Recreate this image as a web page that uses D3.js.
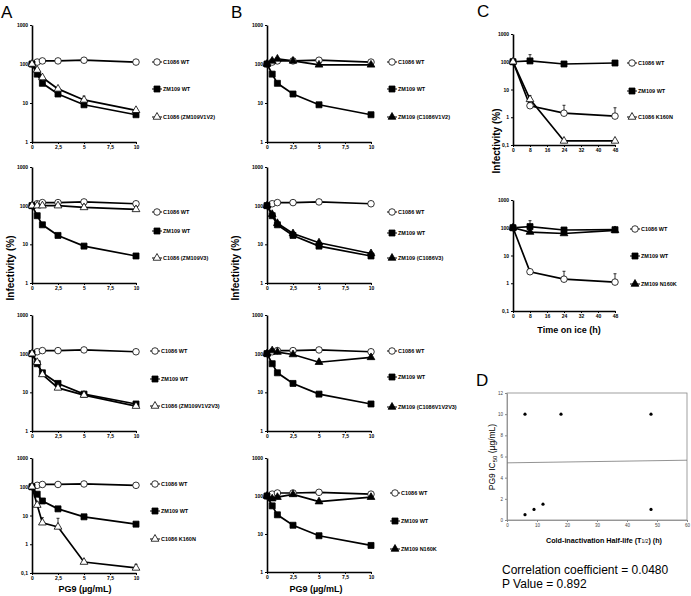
<!DOCTYPE html>
<html>
<head>
<meta charset="utf-8">
<script src="https://cdn.jsdelivr.net/npm/d3@7"></script>
<style>
body { margin: 0; background: #fff; }
svg { font-family: "Liberation Sans", Arial, sans-serif; }
</style>
</head>
<body>
<div id="wrapper"></div>
<script>
// x values
const doses = [0, 0.5, 1, 2.5, 5, 10];
const hours = [0, 8, 24, 48];
const doseTicks = [0, 2.5, 5, 7.5, 10];
const hourTicks = [0, 8, 16, 24, 32, 40, 48];

// panel A (infectivity %, by PG9 dose)
const a_c1086wt = [100, 112, 120, 120, 125, 112];
const a_zm109wt = [100, 55, 32, 17, 9, 5];
const a1_chimera = [100, 70, 45, 23, 12, 6.5];
const a1_err = [null, null, null, null, 15, null];
const a2_chimera = [100, 100, 100, 100, 90, 80];
const a3_chimera = [100, 60, 29, 13, 8.5, 4.4];
const a4_k160n = [100, 23, 5.6, 4, 0.24, 0.15];
const a4_err = [null, 30, 8.4, 8, null, 0.2];

// panel B
const b1_chimera = [100, 120, 135, 120, 95, 95];
const b2_chimera = [100, 60, 35, 19, 11, 5.8];
const b3_chimera = [100, 120, 110, 95, 60, 80];
const b4_n160k = [100, 85, 93, 110, 71, 93];

// panel C (infectivity %, by hours on ice)
const c_c1086wt = [100, 2.6, 1.4, 1.1];
const c_c1086wt_err = [null, null, 2.7, 2.2];
const c_zm109wt = [100, 107, 83, 90];
const c_zm109wt_err = [null, 180, null, null];
const c1_k160n = [100, 4.4, 0.14, 0.14];
const c1_k160n_err = [null, 6, null, null];
const c2_zm109wt = [100, 110, 83, 85];
const c2_n160k = [100, 70, 62, 80];

// panel D
const dHalfLife = [6, 18, 48, 6, 9, 12, 48];
const dIC50 = [10, 10, 10, 0.5, 1, 1.5, 1];
const dFit = [[0, 5.4], [60, 5.65]];

const svg = d3.select("#wrapper").append("svg")
    .attr("width", 691).attr("height", 596);

const comma = d => String(d).replace(".", ",");

function series(name, shape, fill, values, err) {
    return {name, shape, fill, values, err: err || values.map(() => null)};
}

const panels = [
    {left: 32, right: 136, top: 25, bottom: 142, xs: doses, xTicks: doseTicks, yMin: 1, legX: 157, legY: [62, 89, 117],
     series: [series("C1086 WT", "circle", "white", a_c1086wt), series("ZM109 WT", "square", "black", a_zm109wt),
              series("C1086 (ZM109V1V2)", "triangle", "white", a1_chimera, a1_err)]},
    {left: 32, right: 136, top: 167, bottom: 283, xs: doses, xTicks: doseTicks, yMin: 1, legX: 157, legY: [212, 231, 258],
     series: [series("C1086 WT", "circle", "white", a_c1086wt), series("ZM109 WT", "square", "black", a_zm109wt),
              series("C1086 (ZM109V3)", "triangle", "white", a2_chimera)]},
    {left: 32, right: 136, top: 315, bottom: 431, xs: doses, xTicks: doseTicks, yMin: 1, legX: 155, legY: [351, 379, 406],
     series: [series("C1086 WT", "circle", "white", a_c1086wt), series("ZM109 WT", "square", "black", a_zm109wt),
              series("C1086 (ZM109V1V2V3)", "triangle", "white", a3_chimera)]},
    {left: 32, right: 136, top: 458, bottom: 573, xs: doses, xTicks: doseTicks, yMin: 0.1, legX: 155, legY: [484, 511, 539],
     series: [series("C1086 WT", "circle", "white", a_c1086wt), series("ZM109 WT", "square", "black", a_zm109wt),
              series("C1086 K160N", "triangle", "white", a4_k160n, a4_err)]},
    {left: 267, right: 371, top: 25, bottom: 142, xs: doses, xTicks: doseTicks, yMin: 1, legX: 392, legY: [62, 89, 117],
     series: [series("C1086 WT", "circle", "white", a_c1086wt), series("ZM109 WT", "square", "black", a_zm109wt),
              series("ZM109 (C1086V1V2)", "triangle", "black", b1_chimera)]},
    {left: 267, right: 371, top: 167, bottom: 283, xs: doses, xTicks: doseTicks, yMin: 1, legX: 392, legY: [212, 233, 258],
     series: [series("C1086 WT", "circle", "white", a_c1086wt), series("ZM109 WT", "square", "black", a_zm109wt),
              series("ZM109 (C1086V3)", "triangle", "black", b2_chimera)]},
    {left: 267, right: 371, top: 315, bottom: 431, xs: doses, xTicks: doseTicks, yMin: 1, legX: 392, legY: [351, 377, 407],
     series: [series("C1086 WT", "circle", "white", a_c1086wt), series("ZM109 WT", "square", "black", a_zm109wt),
              series("ZM109 (C1086V1V2V3)", "triangle", "black", b3_chimera)]},
    {left: 267, right: 371, top: 458, bottom: 572, xs: doses, xTicks: doseTicks, yMin: 1, legX: 395, legY: [493, 521, 549],
     series: [series("C1086 WT", "circle", "white", a_c1086wt), series("ZM109 WT", "square", "black", a_zm109wt),
              series("ZM109 N160K", "triangle", "black", b4_n160k)]},
    {left: 513, right: 615, top: 34, bottom: 145, xs: hours, xTicks: hourTicks, yMin: 0.1, legX: 632, legY: [63, 91, 117],
     series: [series("C1086 WT", "circle", "white", c_c1086wt, c_c1086wt_err), series("ZM109 WT", "square", "black", c_zm109wt, c_zm109wt_err),
              series("C1086 K160N", "triangle", "white", c1_k160n, c1_k160n_err)]},
    {left: 513, right: 615, top: 200, bottom: 311, xs: hours, xTicks: hourTicks, yMin: 0.1, legX: 635, legY: [229, 256, 284],
     series: [series("C1086 WT", "circle", "white", c_c1086wt, c_c1086wt_err), series("ZM109 WT", "square", "black", c2_zm109wt, c_zm109wt_err),
              series("ZM109 N160K", "triangle", "black", c2_n160k)]}
];

const symbolFor = {circle: d3.symbolCircle, square: d3.symbolSquare, triangle: d3.symbolTriangle};
const sizeFor = {circle: 34, square: 36, triangle: 26};

function marker(g, shape, fill, cx, cy) {
    g.append("path")
        .attr("d", d3.symbol(symbolFor[shape], sizeFor[shape])())
        .attr("transform", `translate(${cx},${cy})`)
        .attr("fill", fill)
        .attr("stroke", "black")
        .attr("stroke-width", 0.8);
}

function styleAxis(ax) {
    ax.select(".domain").attr("stroke-width", 1.6);
    ax.selectAll(".tick line").attr("stroke-width", 1);
    ax.selectAll(".tick text").style("font-size", "5px").style("font-weight", "bold");
}

panels.forEach(p => {
    const x = d3.scaleLinear().domain([p.xTicks[0], p.xTicks[p.xTicks.length - 1]]).range([p.left, p.right]);
    const y = d3.scaleLog().domain([p.yMin, 1000]).range([p.bottom, p.top]);
    const decades = p.yMin < 1 ? [0.1, 1, 10, 100, 1000] : [1, 10, 100, 1000];
    const g = svg.append("g");

    const xa = g.append("g")
        .attr("transform", `translate(0,${p.bottom})`)
        .call(d3.axisBottom(x).tickValues(p.xTicks).tickSize(2).tickSizeOuter(0).tickPadding(1.5).tickFormat(comma));
    styleAxis(xa);
    const ya = g.append("g")
        .attr("transform", `translate(${p.left},0)`)
        .call(d3.axisLeft(y).tickValues(decades).tickSize(2).tickSizeOuter(0).tickPadding(2).tickFormat(comma));
    styleAxis(ya);

    const line = d3.line().x((d, i) => x(p.xs[i])).y(d => y(d));
    p.series.forEach(s => {
        g.append("path").attr("d", line(s.values))
            .attr("fill", "none").attr("stroke", "black").attr("stroke-width", 1.7);
    });
    p.series.forEach(s => {
        s.err.forEach((e, i) => {
            if (e == null) return;
            const cx = x(p.xs[i]);
            g.append("line").attr("x1", cx).attr("x2", cx).attr("y1", y(s.values[i])).attr("y2", y(e))
                .attr("stroke", "black").attr("stroke-width", 0.8);
            g.append("line").attr("x1", cx - 1.5).attr("x2", cx + 1.5).attr("y1", y(e)).attr("y2", y(e))
                .attr("stroke", "black").attr("stroke-width", 0.8);
        });
    });
    p.series.forEach(s => {
        s.values.forEach((v, i) => marker(g, s.shape, s.fill, x(p.xs[i]), y(v)));
    });

    // legend
    p.series.forEach((s, i) => {
        const ly = p.legY[i];
        g.append("line").attr("x1", p.legX - 5).attr("x2", p.legX + 5).attr("y1", ly).attr("y2", ly)
            .attr("stroke", "black").attr("stroke-width", 1);
        marker(g, s.shape, s.fill, p.legX, ly);
        g.append("text").attr("x", p.legX + 6).attr("y", ly).attr("dy", "0.35em")
            .style("font-size", "5.5px").style("font-weight", "bold").text(s.name);
    });
});

// panel D
const dx = d3.scaleLinear().domain([0, 60]).range([507, 687]);
const dy = d3.scaleLinear().domain([0, 12]).range([520, 393]);
const dg = svg.append("g");
dg.append("rect").attr("x", 507).attr("y", 393).attr("width", 180).attr("height", 127)
    .attr("fill", "none").attr("stroke", "#888").attr("stroke-width", 0.8);
const dxa = dg.append("g").attr("transform", "translate(0,520)")
    .call(d3.axisBottom(dx).tickValues(d3.range(0, 61, 10)).tickSize(2).tickSizeOuter(0).tickPadding(2));
const dya = dg.append("g").attr("transform", "translate(507,0)")
    .call(d3.axisLeft(dy).tickValues(d3.range(0, 13, 2)).tickSize(2).tickSizeOuter(0).tickPadding(2));
[dxa, dya].forEach(ax => {
    ax.select(".domain").attr("stroke", "#888").attr("stroke-width", 0.8);
    ax.selectAll(".tick line").attr("stroke", "#888");
    ax.selectAll(".tick text").style("font-size", "4.5px").attr("fill", "#444");
});
dg.append("path").attr("d", d3.line().x(d => dx(d[0])).y(d => dy(d[1]))(dFit))
    .attr("fill", "none").attr("stroke", "#777").attr("stroke-width", 0.8);
dg.selectAll("circle.pt").data(dHalfLife).join("circle")
    .attr("class", "pt")
    .attr("cx", d => dx(d)).attr("cy", (d, i) => dy(dIC50[i])).attr("r", 1.6).attr("fill", "black");

// axis titles
function vtext(x, y, size, txt) {
    svg.append("text").attr("transform", `translate(${x},${y}) rotate(-90)`)
        .attr("text-anchor", "middle").style("font-size", size + "px").style("font-weight", "bold").text(txt);
}
vtext(14, 268, 10, "Infectivity (%)");
vtext(239, 268, 10, "Infectivity (%)");
vtext(500, 141, 10, "Infectivity (%)");

function htext(x, y, size, txt, bold) {
    return svg.append("text").attr("x", x).attr("y", y).attr("text-anchor", "middle")
        .style("font-size", size + "px").style("font-weight", bold ? "bold" : "normal").text(txt);
}
htext(85, 592, 9, "PG9 (µg/mL)", true);
htext(316, 592, 9, "PG9 (µg/mL)", true);
htext(569, 333, 9, "Time on ice (h)", true);

const xl = htext(604, 543, 7.2, "Cold-inactivation Half-life  (T", true);
xl.append("tspan").style("font-size", "5px").style("font-weight", "normal").text("1/2");
xl.append("tspan").text(") (h)");

const yl = svg.append("text").attr("transform", "translate(495,457) rotate(-90)")
    .attr("text-anchor", "middle").style("font-size", "8.5px");
yl.append("tspan").text("PG9 IC");
yl.append("tspan").style("font-size", "6px").attr("dy", 2).text("50");
yl.append("tspan").attr("dy", -2).text(" (µg/mL)");

svg.append("text").attr("x", 502).attr("y", 574).style("font-size", "12px").text("Correlation coefficient = 0.0480");
svg.append("text").attr("x", 502).attr("y", 588).style("font-size", "12px").text("P Value = 0.892");

// panel letters
[["A", 1, 18], ["B", 231, 18], ["C", 477, 17], ["D", 476, 386]].forEach(([t, x, y]) => {
    svg.append("text").attr("x", x).attr("y", y).style("font-size", "17px").text(t);
});
</script>
</body>
</html>
